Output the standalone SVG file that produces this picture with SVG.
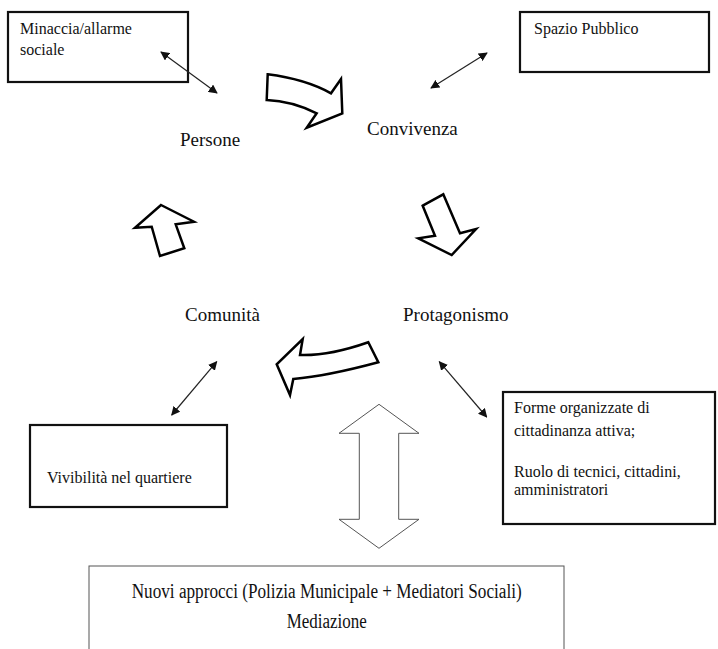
<svg xmlns="http://www.w3.org/2000/svg" width="718" height="649" viewBox="0 0 718 649">
<style>
.bg{fill:#fff}
.box{fill:#fff;stroke:#111;stroke-width:2.2}
.box2{fill:#fff;stroke:#555;stroke-width:1}
text{font-family:'Liberation Serif','DejaVu Serif',serif;fill:#111}
.lbl{font-size:19px}
.txt{font-size:16px}
.big{font-size:20px}
.blk{fill:#fff;stroke:#000;stroke-width:2.5;stroke-linejoin:miter}
.thin{fill:#fff;stroke:#555;stroke-width:1}
.con{stroke:#222;stroke-width:1.2;fill:none;marker-start:url(#ah);marker-end:url(#ah)}
</style>
<defs>
<marker id="ah" viewBox="0 0 10 10" refX="9" refY="5" markerWidth="9" markerHeight="9" markerUnits="userSpaceOnUse" orient="auto-start-reverse">
<path d="M0,0 L10,5 L0,10 Z" fill="#111"/>
</marker>
</defs>
<rect class="bg" x="0" y="0" width="718" height="649"/>

<g id="node-minaccia">
<rect class="box" x="8" y="12" width="180" height="70"/>
<text class="txt" x="20" y="34">Minaccia/allarme</text>
<text class="txt" x="20" y="55">sociale</text>
</g>
<g id="node-spazio">
<rect class="box" x="520" y="12" width="189" height="60"/>
<text class="txt" x="534" y="34">Spazio Pubblico</text>
</g>
<g id="node-persone"><text class="lbl" x="180" y="146">Persone</text></g>
<g id="node-convivenza"><text class="lbl" x="367" y="135">Convivenza</text></g>
<g id="node-comunita"><text class="lbl" x="185" y="321">Comunità</text></g>
<g id="node-protagonismo"><text class="lbl" x="403" y="321">Protagonismo</text></g>
<g id="node-vivibilita">
<rect class="box" x="30" y="425" width="197" height="82"/>
<text class="txt" x="47" y="483">Vivibilità nel quartiere</text>
</g>
<g id="node-forme">
<rect class="box" x="503" y="392" width="212" height="132"/>
<text class="txt" x="514" y="413">Forme organizzate di</text>
<text class="txt" x="514" y="436">cittadinanza attiva;</text>
<text class="txt" x="514" y="477">Ruolo di tecnici, cittadini,</text>
<text class="txt" x="514" y="495">amministratori</text>
</g>
<g id="node-nuovi">
<rect class="box2" x="89" y="566" width="475" height="100"/>
<text class="big" x="326.7" y="598" text-anchor="middle" textLength="390" lengthAdjust="spacingAndGlyphs">Nuovi approcci (Polizia Municipale + Mediatori Sociali)</text>
<text class="big" x="326.7" y="628" text-anchor="middle" textLength="80" lengthAdjust="spacingAndGlyphs">Mediazione</text>
</g>

<g id="connectors">
<path class="blk" d="M267.7,74.3 Q305,79 331,93.3 L341,79 L342.3,113.3 L306.7,127.7 L316.7,113.3 Q292,101 266.7,100 Z"/>
<path class="blk" d="M422.7,205.7 L443.3,194.3 L460,233.3 L476,229 L451.7,255 L418.3,238.3 L435,235.7 Z"/>
<path class="blk" d="M368.3,342.3 L378.3,362.3 Q327.6,376 293.3,379 L290,395 L276.7,364.3 L302.7,339 L300,355 Q329.2,356 368.3,342.3 Z"/>
<path class="blk" d="M161,205 L194,221.7 L175.7,224.3 L184.3,248.3 L160,256 L151.7,226.7 L135,227.7 Z"/>
<path class="thin" d="M379,404.3 L419,433.3 L398.7,433.3 L398.7,519.3 L419,519.3 L379,548.3 L339,519.3 L359.3,519.3 L359.3,433.3 L339,433.3 Z"/>
<line class="con" x1="161" y1="52" x2="217" y2="93"/>
<line class="con" x1="487" y1="53" x2="431" y2="88"/>
<line class="con" x1="216.7" y1="361.7" x2="171.7" y2="415"/>
<line class="con" x1="439.3" y1="361.7" x2="486.7" y2="417"/>
</g>
</svg>
